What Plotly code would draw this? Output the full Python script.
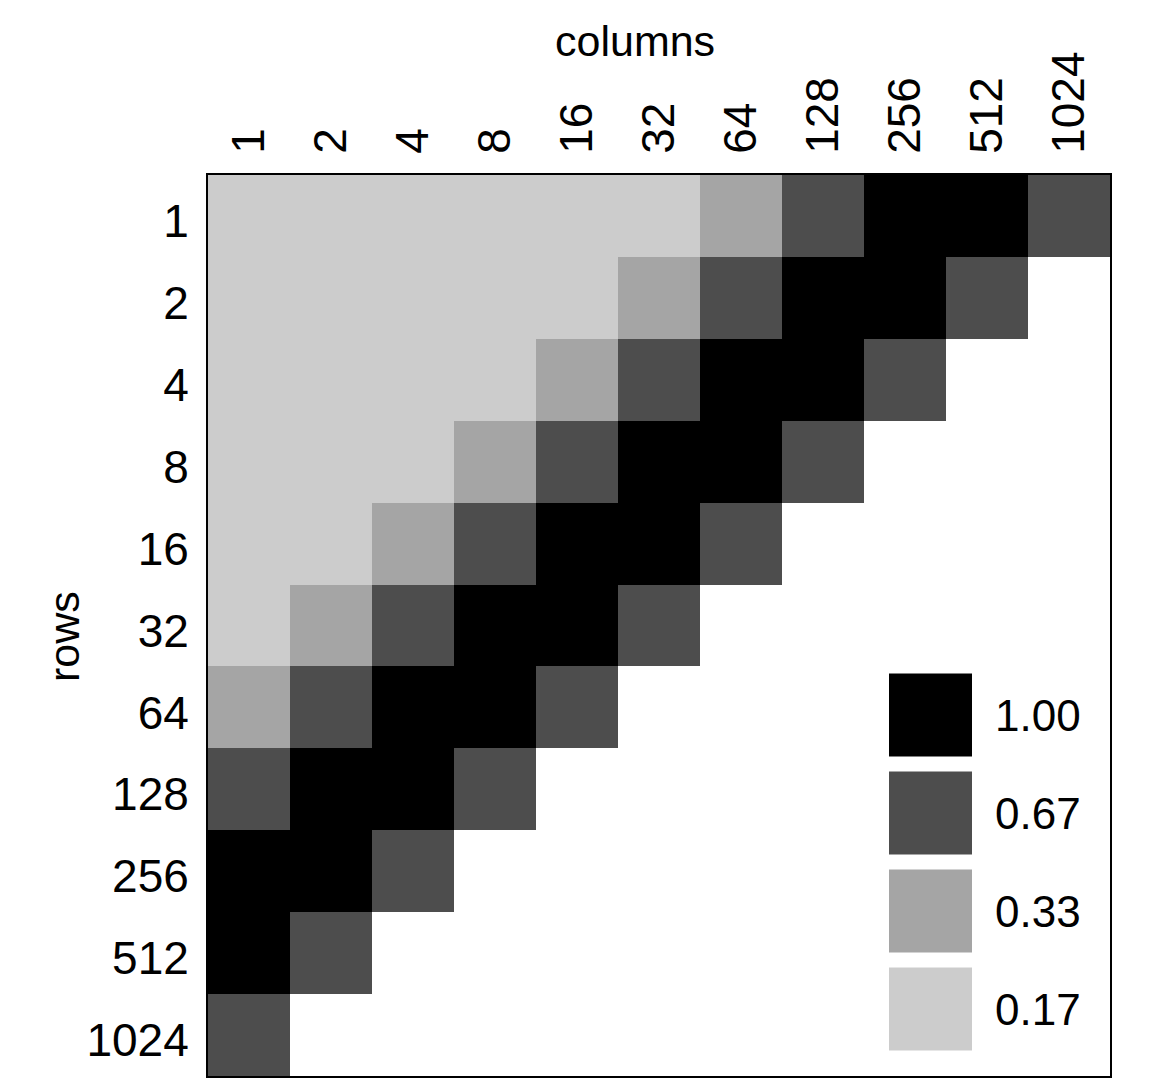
import plotly.graph_objects as go

# ---- data ----
columns = ["1", "2", "4", "8", "16", "32", "64", "128", "256", "512", "1024"]
rows = ["1", "2", "4", "8", "16", "32", "64", "128", "256", "512", "1024"]

row_1 = [0.17, 0.17, 0.17, 0.17, 0.17, 0.17, 0.33, 0.67, 1.00, 1.00, 0.67]
row_2 = [0.17, 0.17, 0.17, 0.17, 0.17, 0.33, 0.67, 1.00, 1.00, 0.67]
row_4 = [0.17, 0.17, 0.17, 0.17, 0.33, 0.67, 1.00, 1.00, 0.67]
row_8 = [0.17, 0.17, 0.17, 0.33, 0.67, 1.00, 1.00, 0.67]
row_16 = [0.17, 0.17, 0.33, 0.67, 1.00, 1.00, 0.67]
row_32 = [0.17, 0.33, 0.67, 1.00, 1.00, 0.67]
row_64 = [0.33, 0.67, 1.00, 1.00, 0.67]
row_128 = [0.67, 1.00, 1.00, 0.67]
row_256 = [1.00, 1.00, 0.67]
row_512 = [1.00, 0.67]
row_1024 = [0.67]

legend_levels = [1.00, 0.67, 0.33, 0.17]
legend_labels = ["1.00", "0.67", "0.33", "0.17"]

# ---- build ----
all_rows = [row_1, row_2, row_4, row_8, row_16, row_32, row_64, row_128,
            row_256, row_512, row_1024]
z = [r + [None] * (len(columns) - len(r)) for r in all_rows]

colorscale = [
    [0.0, "#cccccc"], [0.25, "#cccccc"],
    [0.25, "#a5a5a5"], [0.5, "#a5a5a5"],
    [0.5, "#4d4d4d"], [0.835, "#4d4d4d"],
    [0.835, "#000000"], [1.0, "#000000"],
]

FONT = "Liberation Sans, Arial, sans-serif"
OFF = 8  # page body margin

fig = go.Figure()
fig.add_trace(go.Heatmap(
    z=z, x=columns, y=rows, colorscale=colorscale, zmin=0, zmax=1,
    showscale=False, hoverongaps=False,
))
fig.add_trace(go.Heatmap(
    z=[[v] for v in legend_levels], x=["key"], y=legend_labels,
    colorscale=colorscale, zmin=0, zmax=1, showscale=False,
    ygap=15, xaxis="x2", yaxis="y2",
))

fig.update_layout(
    template="none",
    width=1151 - OFF, height=1079 - OFF,
    margin=dict(l=208 - OFF, r=41, t=175 - OFF, b=3, pad=0),
    paper_bgcolor="white", plot_bgcolor="white",
    font=dict(family=FONT, color="black", size=46),
    showlegend=False,
    xaxis=dict(
        type="category", side="top", tickangle=-90, showgrid=False,
        zeroline=False, showline=True, mirror=True, linecolor="black",
        linewidth=2, ticks="", tickfont=dict(size=46), automargin=False,
        domain=[0, 1], ticklabelstandoff=10,
    ),
    yaxis=dict(
        type="category", autorange="reversed", showgrid=False,
        zeroline=False, showline=True, mirror=True, linecolor="black",
        linewidth=2, ticks="", tickfont=dict(size=46), automargin=False,
        ticklabelstandoff=8, ticklabelshift=-5,
    ),
    xaxis2=dict(
        domain=[(889 - 208) / 902, (972 - 208) / 902], anchor="y2",
        showticklabels=False, showgrid=False, zeroline=False,
        showline=False, ticks="", type="category",
    ),
    yaxis2=dict(
        domain=[(1076 - 1058.5) / 901, (1076 - 666.5) / 901], anchor="x2",
        side="right", type="category", autorange="reversed",
        showgrid=False, zeroline=False, showline=False, ticks="",
        tickfont=dict(size=44), ticklabelstandoff=22,
    ),
    annotations=[
        dict(text="columns", xref="paper", yref="paper",
             x=(635 - 208) / 902, y=(1076 - 41) / 901,
             xanchor="center", yanchor="middle", showarrow=False,
             font=dict(size=43, family=FONT, color="black")),
        dict(text="rows", xref="paper", yref="paper",
             x=(64 - 208) / 902, y=(1076 - 637) / 901, textangle=-90,
             xanchor="center", yanchor="middle", showarrow=False,
             font=dict(size=43, family=FONT, color="black")),
    ],
)

fig.write_html("out.html")
